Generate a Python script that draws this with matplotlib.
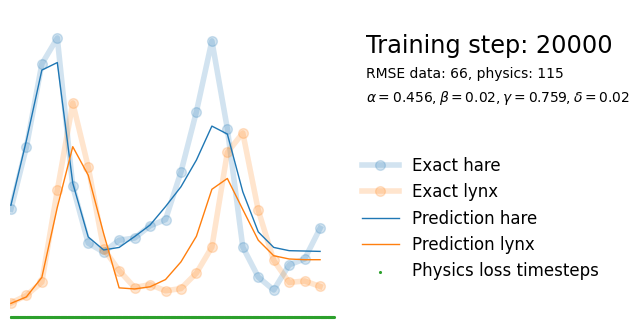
import numpy as np
import matplotlib
matplotlib.use("Agg")
import matplotlib.pyplot as plt

# years since 1900
t_obs = np.arange(21)

# exact hudson bay data (thousands)
hare_exact = [30, 47.2, 70.2, 77.4, 36.3, 20.6, 18.1, 21.4, 22, 25.4, 27.1,
              40.3, 57, 76.6, 52.3, 19.5, 11.2, 7.6, 14.6, 16.2, 24.7]
lynx_exact = [4, 6.1, 9.8, 35.2, 59.4, 41.7, 19, 13, 8.3, 9.1, 7.4,
              8, 12.3, 19.5, 45.7, 51.1, 29.7, 15.8, 9.7, 10.1, 8.6]

# network prediction at step 20000
hare_pred = [31.1, 49.0, 68.5, 70.6, 37.2, 22.3, 18.7, 19.4, 22.4, 25.6, 30.7,
             36.2, 43.6, 53.0, 50.8, 34.8, 23.7, 19.4, 18.5, 18.4, 18.3]
lynx_pred = [3.9, 5.7, 11.1, 30.5, 47.3, 39.4, 23.2, 8.2, 7.9, 8.5, 10.5,
             15.4, 22.5, 35.5, 38.5, 29.9, 21.4, 17.1, 16.2, 16.0, 16.0]

# collocation points for the physics loss
t_phys_start, t_phys_end, n_phys = 0.0, 20.9, 600
t_phys = np.linspace(t_phys_start, t_phys_end, n_phys)

step = 20000
rmse_data, rmse_phys = 66, 115
alpha, beta, gamma, delta = 0.456, 0.02, 0.759, 0.02

fig = plt.figure(figsize=(6.4, 3.28), dpi=100)
ax = fig.add_axes([10/640, 8/328, 324/640, 291.4/328])

ax.plot(t_obs, hare_exact, "o-", color="tab:blue", lw=4, ms=7, alpha=0.2, label="Exact hare")
ax.plot(t_obs, lynx_exact, "o-", color="tab:orange", lw=4, ms=7, alpha=0.2, label="Exact lynx")
ax.plot(t_obs, hare_pred, color="tab:blue", lw=1, label="Prediction hare")
ax.plot(t_obs, lynx_pred, color="tab:orange", lw=1, label="Prediction lynx")
ax.scatter(t_phys, np.zeros_like(t_phys), s=5, lw=0, color="tab:green",
           label="Physics loss timesteps", clip_on=False)

ax.set_xlim(-0.06, 20.9)
ax.set_ylim(-0.7, 80)
ax.axis("off")

fig.legend(loc="upper left", bbox_to_anchor=(347/640, 1 - 142/328), frameon=False,
           fontsize=12, handlelength=2.2, labelspacing=0.5)

fig.text(366/640, 1 - 53/328, "Training step: %i" % step, fontsize=17.28)
fig.text(366/640, 1 - 78.5/328, "RMSE data: %i, physics: %i" % (rmse_data, rmse_phys), fontsize=10)
fig.text(366/640, 1 - 102/328,
         r"$\alpha=%.3f, \beta=%.2f, \gamma=%.3f, \delta=%.2f$" % (alpha, beta, gamma, delta),
         fontsize=10)

fig.savefig("out.png", dpi=100)
